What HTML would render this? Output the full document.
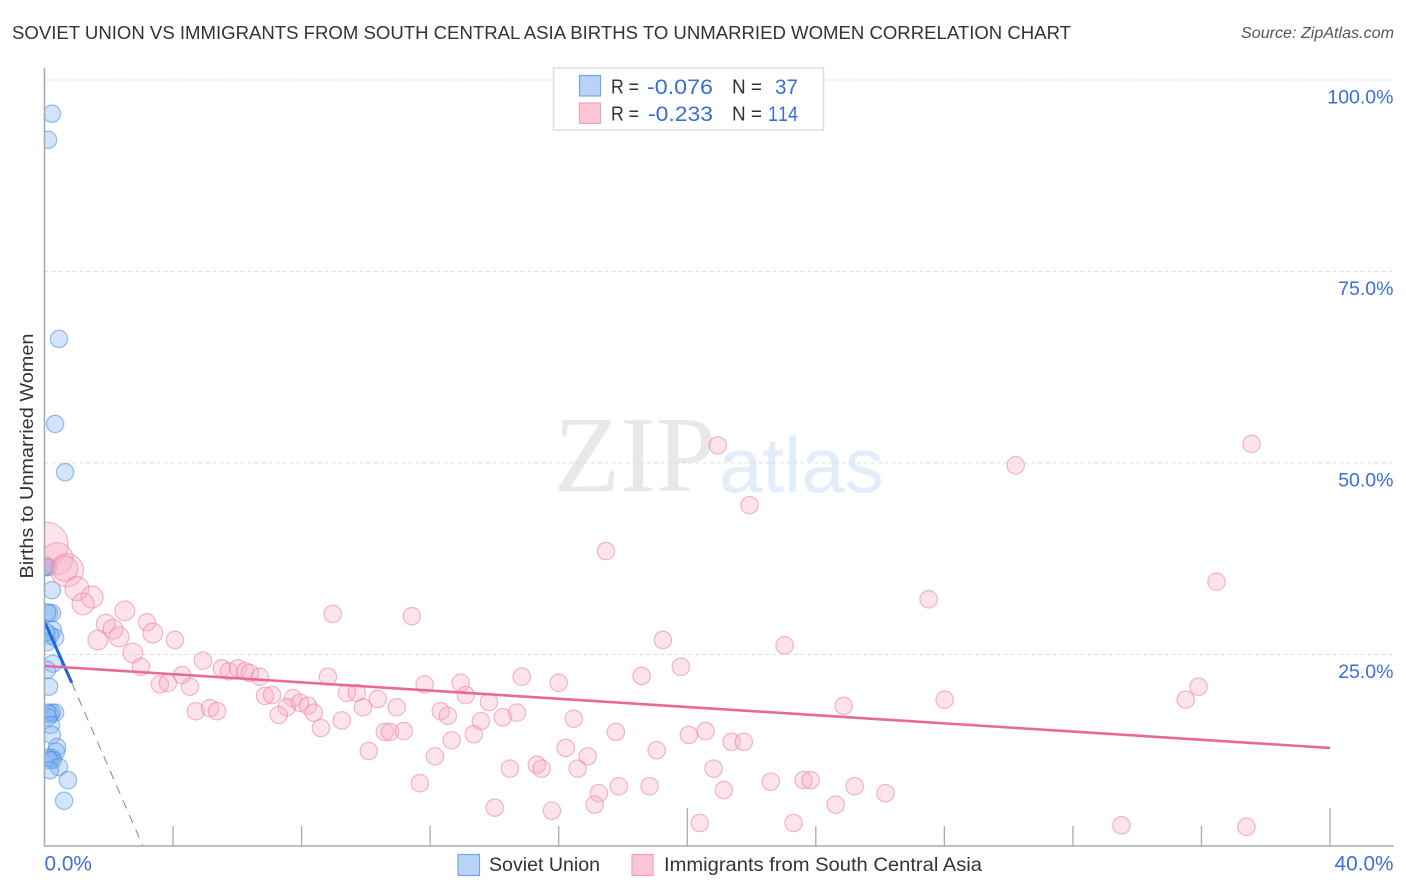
<!DOCTYPE html>
<html lang="en">
<head>
<meta charset="utf-8">
<title>Soviet Union vs Immigrants from South Central Asia Births to Unmarried Women Correlation Chart</title>
<style>
html,body{margin:0;padding:0;background:#fff;}
body{width:1406px;height:892px;overflow:hidden;}
svg{display:block;font-family:"Liberation Sans",sans-serif;}
</style>
</head>
<body>
<svg id="chart" xmlns="http://www.w3.org/2000/svg" width="1406" height="892" viewBox="0 0 1406 892">
  <defs>
    <clipPath id="plot-clip"><rect x="44.5" y="60" width="1350" height="786"/></clipPath>
  </defs>
  <rect x="0" y="0" width="1406" height="892" fill="#ffffff"/>
  <text x="12" y="39" font-size="18.5" fill="#333333" textLength="1059" lengthAdjust="spacingAndGlyphs">SOVIET UNION VS IMMIGRANTS FROM SOUTH CENTRAL ASIA BIRTHS TO UNMARRIED WOMEN CORRELATION CHART</text>
  <text x="1241" y="38" font-size="15.5" font-style="italic" fill="#555555" textLength="153" lengthAdjust="spacingAndGlyphs">Source: ZipAtlas.com</text>

  <g>
    <text x="554" y="491" font-family="'Liberation Serif',serif" font-size="108" fill="#e8e8e8">ZIP</text>
    <text x="719" y="492" font-size="78" fill="#e2ecfa">atlas</text>
  </g>

  <g id="grid"></g>
  <g id="points-soviet" clip-path="url(#plot-clip)"></g>
  <g id="points-immigrants" clip-path="url(#plot-clip)"></g>
  <g id="trends" clip-path="url(#plot-clip)"></g>
  <g id="axes"></g>

  <text x="33" y="456" font-size="18.5" fill="#333333" text-anchor="middle" textLength="245" lengthAdjust="spacingAndGlyphs" transform="rotate(-90 33 456)">Births to Unmarried Women</text>

  <g>
    <rect x="553.5" y="68" width="270" height="62" fill="#ffffff" stroke="#dddddd" stroke-width="1.5"/>
    <rect x="579.5" y="75.5" width="21" height="20.5" fill="#b8d3f7" stroke="#72a6e3" stroke-width="1.2"/>
    <rect x="579.5" y="103" width="21" height="20.5" fill="#fdc6d6" stroke="#f2a0b8" stroke-width="1.2"/>
    <g font-size="20" fill="#333333">
      <text x="611" y="93.5" textLength="28" lengthAdjust="spacingAndGlyphs">R =</text>
      <text x="732" y="93.5" textLength="30" lengthAdjust="spacingAndGlyphs">N =</text>
      <text x="611" y="120.5" textLength="28" lengthAdjust="spacingAndGlyphs">R =</text>
      <text x="732" y="120.5" textLength="30" lengthAdjust="spacingAndGlyphs">N =</text>
    </g>
    <g font-size="21.5" fill="#3570d2" style="font-kerning:none">
      <text x="647" y="94" textLength="66" lengthAdjust="spacingAndGlyphs">-0.076</text>
      <text x="775" y="94" textLength="23" lengthAdjust="spacingAndGlyphs">37</text>
      <text x="648" y="121" textLength="65" lengthAdjust="spacingAndGlyphs">-0.233</text>
      <text x="768" y="121" textLength="30" lengthAdjust="spacingAndGlyphs">114</text>
    </g>
  </g>

  <g>
    <rect x="458" y="854.5" width="21.5" height="21" fill="#b8d3f7" stroke="#72a6e3" stroke-width="1.2"/>
    <text x="489" y="871" font-size="19.5" fill="#333333" textLength="111" lengthAdjust="spacingAndGlyphs">Soviet Union</text>
    <rect x="632" y="854.5" width="21" height="21" fill="#fdc6d6" stroke="#f2a0b8" stroke-width="1.2"/>
    <text x="664" y="871" font-size="19.5" fill="#333333" textLength="318" lengthAdjust="spacingAndGlyphs">Immigrants from South Central Asia</text>
  </g>
</svg>

<script>
const xTickValues = [0, 4, 8, 12, 16, 20, 24, 28, 32, 36, 40];
const xMajorTicks = [20, 40];
const xTickLabels = [0, 40];
const yTickValues = [25, 50, 75, 100];

const sovietX = [0.23,0.11,0.45,0.33,0.64,0.23,0.11,0.05,0.02,0.14,0.23,0.08,0.26,0.33,0.17,0.08,0.05,0.26,0.08,0.14,0.33,0.23,0.17,0.11,0.08,0.20,0.23,0.39,0.36,0.23,0.26,0.11,0.17,0.45,0.17,0.73,0.61];
const sovietY = [95.6,92.2,66.2,55.1,48.8,33.4,36.4,36.6,36.4,30.4,30.4,30.5,28.2,27.2,27.5,26.6,27.9,23.8,23.0,20.8,17.4,17.4,17.2,16.8,17.4,15.8,14.5,12.9,12.3,11.5,11.2,11.5,11.2,10.3,9.9,8.6,5.9];

const immigrantsX = [0.05,0.39,0.70,0.64,1.01,1.48,1.20,2.50,1.91,2.13,2.32,1.66,3.19,3.37,4.06,2.75,3.00,4.93,4.28,3.59,3.84,4.53,5.52,5.74,6.02,6.24,6.39,6.70,6.86,7.08,4.71,5.15,5.37,7.73,7.54,7.29,7.95,8.20,8.38,8.60,8.82,8.97,11.43,9.41,9.72,10.37,9.91,10.96,11.83,12.95,13.11,13.83,14.85,12.33,12.55,13.58,14.70,14.26,13.36,12.67,12.15,9.25,10.59,10.75,11.18,10.09,11.68,14.48,15.32,15.47,14.01,15.79,16.00,18.58,19.80,19.24,16.47,17.78,16.22,16.90,16.59,17.25,17.12,17.87,18.83,19.05,20.05,20.57,21.38,21.76,20.82,21.14,22.60,20.39,23.03,24.87,28.01,23.62,23.84,25.21,26.17,24.62,23.31,20.95,21.94,17.47,30.22,37.56,36.47,27.51,35.91,35.51,33.51,37.40];
const immigrantsY = [39.4,37.5,36.0,36.2,33.6,32.5,31.6,30.7,29.0,28.3,27.3,26.9,29.2,27.8,26.9,25.2,23.4,24.2,22.3,21.1,21.3,20.8,23.2,22.8,23.2,22.8,22.6,22.1,19.6,19.7,17.6,18.0,17.6,19.3,18.1,17.1,18.7,18.3,17.4,15.4,22.1,30.3,30.0,20.0,20.0,19.2,18.1,18.1,21.1,21.3,19.7,18.8,22.1,17.6,17.0,16.3,17.4,16.8,14.6,13.8,11.7,16.4,14.9,14.9,15.0,12.4,8.2,10.1,10.6,10.1,5.0,4.6,21.3,22.2,23.4,26.9,16.6,14.9,12.8,11.7,10.1,6.9,5.4,7.8,7.8,12.5,14.5,15.0,13.6,13.6,10.1,7.3,8.4,3.0,26.2,18.3,19.1,8.6,8.6,7.8,6.9,5.4,3.0,52.3,44.5,38.5,49.7,52.5,34.5,32.2,20.8,19.1,2.7,2.5];
const immigrantsWeight = [6.4,3.4,3.6,2.1,1.9,1.6,1.6,1.3,1.2,1.3,1.3,1.3,1,1.3,1,1.3,1,1,1,1,1,1,1,1,1,1,1,1,1,1,1,1,1,1,1,1,1,1,1,1,1,1,1,1,1,1,1,1,1,1,1,1,1,1,1,1,1,1,1,1,1,1,1,1,1,1,1,1,1,1,1,1,1,1,1,1,1,1,1,1,1,1,1,1,1,1,1,1,1,1,1,1,1,1,1,1,1,1,1,1,1,1,1,1,1,1,1,1,1,1,1,1,1,1];

const immigrantsTrendX = [0, 40];
const immigrantsTrendY = [23.5, 12.8];
const sovietTrendSolidX = [0, 0.85];
const sovietTrendSolidY = [29.3, 21.3];
const sovietTrendDashX = [0.85, 3.06];
const sovietTrendDashY = [21.3, 0];

const SVG_NS = 'http://www.w3.org/2000/svg';
function xScale(v) { return 44.5 + v * (1330 - 44.5) / 40; }
function yScale(v) { return 846 - v * (846 - 80) / 100; }
function radius(w) { return 8.7 * Math.sqrt(w); }
function make(tag, attrs, parent) {
  const el = document.createElementNS(SVG_NS, tag);
  for (const k in attrs) el.setAttribute(k, attrs[k]);
  parent.appendChild(el);
  return el;
}

const gridLayer = document.getElementById('grid');
const axesLayer = document.getElementById('axes');
const sovietLayer = document.getElementById('points-soviet');
const immigrantsLayer = document.getElementById('points-immigrants');
const trendLayer = document.getElementById('trends');

yTickValues.forEach(function (v) {
  const line = make('line', {x1: 44.5, x2: 1393, y1: yScale(v), y2: yScale(v), stroke: '#dedede', 'stroke-width': 1, 'stroke-dasharray': '4 3'}, gridLayer);
  
  
  const label = make('text', {x: 1393.5, y: yScale(v) + 23.5, 'font-size': 19.5, fill: '#3a70d3', 'text-anchor': 'end'}, axesLayer);
  label.textContent = v.toFixed(1) + '%';
  
  
});

const xAxisLine = make('line', {x1: 44, x2: 1394, y1: 846, y2: 846, stroke: '#aaaaaa', 'stroke-width': 1.6}, axesLayer);


const yAxisLine = make('line', {x1: 44.5, x2: 44.5, y1: 68, y2: 846.8, stroke: '#aaaaaa', 'stroke-width': 1.6}, axesLayer);



xTickValues.forEach(function (v) {
  if (v === 0) return;
  const top = xMajorTicks.indexOf(v) >= 0 ? 808 : 826;
  const tick = make('line', {x1: xScale(v), x2: xScale(v), y1: top, y2: 846, stroke: '#aaaaaa', 'stroke-width': 1.3}, axesLayer);
  
  
});

xTickLabels.forEach(function (v, i) {
  const label = make('text', {x: i === 0 ? 44.5 : 1393.5, y: 870.5, 'font-size': 20.8, fill: '#3a70d3', 'text-anchor': i === 0 ? 'start' : 'end'}, axesLayer);
  label.textContent = v.toFixed(1) + '%';
  
  
});

sovietX.forEach(function (v, i) {
  const c = make('circle', {cx: xScale(v), cy: yScale(sovietY[i]), r: radius(1), fill: 'rgba(130,180,242,0.36)', stroke: 'rgba(70,140,225,0.55)', 'stroke-width': 1.2}, sovietLayer);
  
  
});

immigrantsX.forEach(function (v, i) {
  const c = make('circle', {cx: xScale(v), cy: yScale(immigrantsY[i]), r: radius(immigrantsWeight[i]), fill: 'rgba(248,170,195,0.32)', stroke: 'rgba(235,125,160,0.55)', 'stroke-width': 1.2}, immigrantsLayer);
  
  
});

const blueDash = make('line', {x1: xScale(sovietTrendDashX[0]), y1: yScale(sovietTrendDashY[0]), x2: xScale(sovietTrendDashX[1]), y2: yScale(sovietTrendDashY[1]), stroke: '#6a88c9', 'stroke-width': 1, 'stroke-dasharray': '9 7'}, trendLayer);


const blueSolid = make('line', {x1: xScale(sovietTrendSolidX[0]), y1: yScale(sovietTrendSolidY[0]), x2: xScale(sovietTrendSolidX[1]), y2: yScale(sovietTrendSolidY[1]), stroke: '#1f68d2', 'stroke-width': 3}, trendLayer);


const pinkLine = make('line', {x1: xScale(immigrantsTrendX[0]), y1: yScale(immigrantsTrendY[0]), x2: xScale(immigrantsTrendX[1]), y2: yScale(immigrantsTrendY[1]), stroke: '#e8689a', 'stroke-width': 2.6}, trendLayer);


</script>
</body>
</html>
